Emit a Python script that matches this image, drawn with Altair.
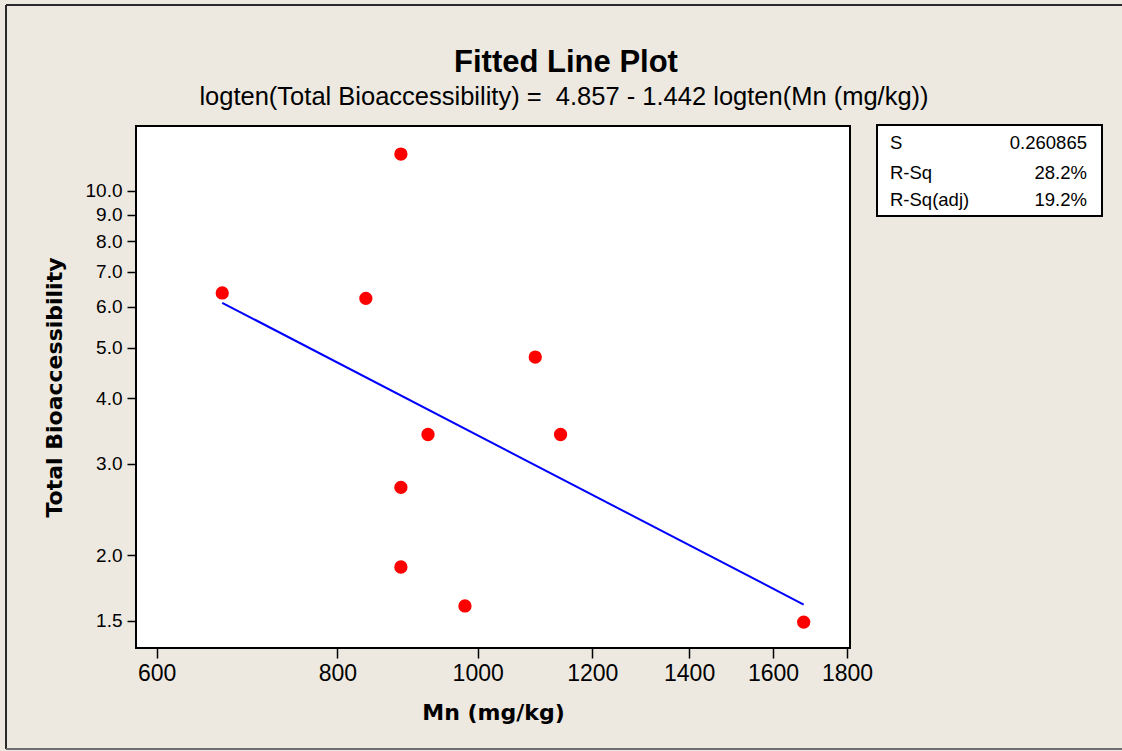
import altair as alt
import pandas as pd

mn = [666, 837, 885, 885, 885, 924, 980, 1096, 1141, 1680]
total_bio = [6.37, 6.22, 11.76, 2.70, 1.90, 3.41, 1.60, 4.80, 3.41, 1.49]

# Fitted regression line end points: logten(Y) = 4.857 - 1.442 logten(X)
fit_mn = [666, 1680]
fit_bio = [6.10, 1.61]

x_ticks = [600, 800, 1000, 1200, 1400, 1600, 1800]
y_ticks = [1.5, 2.0, 3.0, 4.0, 5.0, 6.0, 7.0, 8.0, 9.0, 10.0]

stat_names = ["S", "R-Sq", "R-Sq(adj)"]
stat_values = ["0.260865", "28.2%", "19.2%"]

title_text = "Fitted Line Plot"
subtitle_text = "logten(Total Bioaccessibility) =\u00a0 4.857 - 1.442 logten(Mn (mg/kg))"

pts = pd.DataFrame({"Mn": mn, "TB": total_bio})
fit = pd.DataFrame({"Mn": fit_mn, "TB": fit_bio})
one = alt.Data(values=[{}])

W, H = 714, 522
L, T = 136, 126

xscale = alt.Scale(type="log", domain=[580.6, 1808.5], nice=False, zero=False)
yscale = alt.Scale(type="log", domain=[1.329, 13.31], nice=False, zero=False)

xaxis = alt.Axis(values=x_ticks, format="d", title="Mn (mg/kg)", labelFontSize=23,
                 labelFont="Liberation Sans", tickSize=10, tickWidth=1.5, labelPadding=4,
                 titleFont="DejaVu Sans", titleFontSize=22, titleFontWeight="bold",
                 titleX=W / 2, titleY=64, titleBaseline="middle", titleAlign="center")
yaxis = alt.Axis(values=y_ticks, format=".1f", title="Total Bioaccessibility", labelFontSize=19,
                 labelFont="Liberation Sans", tickSize=9, tickWidth=1.5, labelPadding=5,
                 titleFont="DejaVu Sans", titleFontSize=22, titleFontWeight="bold",
                 titleX=-82, titleY=261, titleBaseline="middle", titleAlign="center",
                 titleAngle=270)

points = alt.Chart(pts).mark_circle(size=177, color="#FF0000", opacity=1).encode(
    x=alt.X("Mn:Q", scale=xscale, axis=xaxis),
    y=alt.Y("TB:Q", scale=yscale, axis=yaxis),
)

line = alt.Chart(fit).mark_line(color="#0000FF", strokeWidth=2).encode(
    x=alt.X("Mn:Q", scale=xscale),
    y=alt.Y("TB:Q", scale=yscale),
)

# outer frame: top, left (dark) and bottom (grey) edges
frame_top = alt.Chart(one).mark_rule(color="#2a2a2a", strokeWidth=2).encode(
    x=alt.value(6 - L), x2=alt.value(1122 - L), y=alt.value(5 - T)
)
frame_left = alt.Chart(one).mark_rule(color="#2a2a2a", strokeWidth=2).encode(
    x=alt.value(6 - L), y=alt.value(5 - T), y2=alt.value(749 - T)
)
frame_bottom = alt.Chart(one).mark_rule(color="#6e6e6e", strokeWidth=2).encode(
    x=alt.value(6 - L), x2=alt.value(1122 - L), y=alt.value(749 - T)
)

title_mark = alt.Chart(one).mark_text(
    align="center", baseline="alphabetic", fontSize=31, fontWeight="bold",
    font="Liberation Sans", color="black", text=title_text
).encode(x=alt.value(566 - L), y=alt.value(72 - T))

subtitle_mark = alt.Chart(one).mark_text(
    align="center", baseline="alphabetic", fontSize=25.5,
    font="Liberation Sans", color="black", text=subtitle_text
).encode(x=alt.value(564 - L), y=alt.value(105 - T))

box = alt.Chart(one).mark_rect(fill="white", stroke="black", strokeWidth=2).encode(
    x=alt.value(741), x2=alt.value(966), y=alt.value(-1), y2=alt.value(90)
)

row_y = [17, 47, 74]
stat_layers = []
for name, val, yy in zip(stat_names, stat_values, row_y):
    stat_layers.append(
        alt.Chart(one).mark_text(align="left", baseline="middle", fontSize=18.5,
                                 font="Liberation Sans", color="black", text=name)
        .encode(x=alt.value(754), y=alt.value(yy))
    )
    stat_layers.append(
        alt.Chart(one).mark_text(align="right", baseline="middle", fontSize=18.5,
                                 font="Liberation Sans", color="black", text=val)
        .encode(x=alt.value(951), y=alt.value(yy))
    )

chart = alt.layer(frame_top, frame_left, frame_bottom, title_mark, subtitle_mark,
                  line, points, box, *stat_layers).properties(
    width=W, height=H,
    autosize=alt.AutoSizeParams(type="none"),
    padding={"left": L, "top": T, "right": 1122 - L - W, "bottom": 751 - T - H},
).configure(background="#EDE9E0").configure_view(
    fill="white", stroke="black", strokeWidth=2
).configure_axis(
    grid=False, domain=False, tickColor="black", labelColor="black", titleColor="black"
)

chart.save("out.html", embed_options={"renderer": "svg", "actions": False})
